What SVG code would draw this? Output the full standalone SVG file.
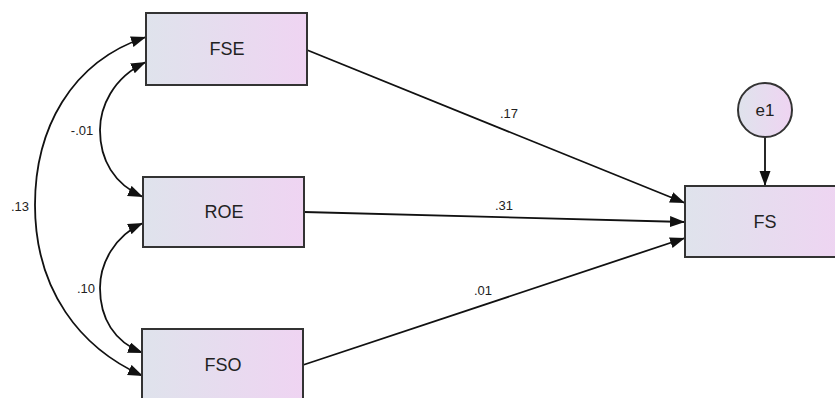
<svg xmlns="http://www.w3.org/2000/svg" width="835" height="398" viewBox="0 0 835 398">
<defs>
<linearGradient id="g" x1="0" y1="0" x2="1" y2="0">
<stop offset="0" stop-color="#dfe3ec"/>
<stop offset="1" stop-color="#efd4f2"/>
</linearGradient>
<marker id="ah" markerUnits="userSpaceOnUse" markerWidth="16" markerHeight="12" refX="15" refY="5.5" orient="auto-start-reverse">
<path d="M0,0 L15,5.5 L0,11 z" fill="#111"/>
</marker>
<style>
.box{fill:url(#g);stroke:#333;stroke-width:2}
.nt{font-family:"Liberation Sans",Arial,sans-serif;font-size:18px;fill:#222;text-anchor:middle}
.lb{font-family:"Liberation Sans",Arial,sans-serif;font-size:13px;fill:#222;text-anchor:middle}
.c{fill:none;stroke:#111;stroke-width:1.8}
</style>
</defs>
<rect width="835" height="398" fill="#fff"/>
<g id="connectors">
<path class="c" d="M307,50 L685,203" marker-end="url(#ah)"/>
<path class="c" d="M304,212 L685,222" marker-end="url(#ah)"/>
<path class="c" d="M303,365 L685,238" marker-end="url(#ah)"/>
<path class="c" d="M765,137 L765,186" marker-end="url(#ah)"/>
<path class="c" d="M146,37 C70,62 35,130 35,205 C35,290 80,348 143,376" marker-start="url(#ah)" marker-end="url(#ah)"/>
<path class="c" d="M146,62 C112,78 100,108 100,130 C100,160 114,184 143,197" marker-start="url(#ah)" marker-end="url(#ah)"/>
<path class="c" d="M143,223 C114,236 100,264 100,288 C100,318 114,342 143,353" marker-start="url(#ah)" marker-end="url(#ah)"/>
<text class="lb" x="509" y="118">.17</text>
<text class="lb" x="504" y="210">.31</text>
<text class="lb" x="483" y="295">.01</text>
<text class="lb" x="20" y="211">.13</text>
<text class="lb" x="82" y="135">-.01</text>
<text class="lb" x="86" y="293">.10</text>
</g>
<g id="FSE"><rect class="box" x="146" y="13" width="161" height="72"/><text class="nt" x="227" y="55">FSE</text></g>
<g id="ROE"><rect class="box" x="143" y="177" width="161" height="70"/><text class="nt" x="224" y="218">ROE</text></g>
<g id="FSO"><rect class="box" x="142" y="329" width="161" height="72"/><text class="nt" x="223" y="371">FSO</text></g>
<g id="FS"><rect class="box" x="685" y="186" width="162" height="71"/><text class="nt" x="765" y="228">FS</text></g>
<g id="e1"><circle cx="765" cy="110" r="27" fill="url(#g)" stroke="#333" stroke-width="2"/><text class="nt" style="font-size:17px" x="765" y="116">e1</text></g>
</svg>
